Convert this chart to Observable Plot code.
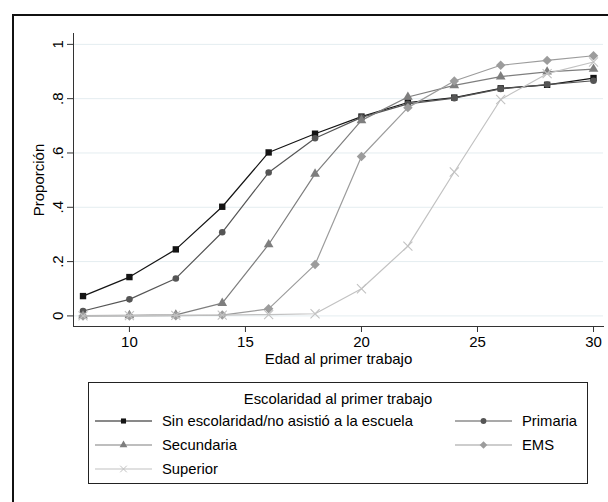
<!DOCTYPE html>
<html>
<head>
<meta charset="utf-8">
<script src="https://cdn.jsdelivr.net/npm/d3@7"></script>
<script src="https://cdn.jsdelivr.net/npm/@observablehq/plot@0.6"></script>
<style>
  html, body { margin: 0; padding: 0; background: #fff; width: 608px; height: 502px; overflow: hidden; position: relative; font-family: "Liberation Sans", Arial, sans-serif; }
  #frame { position: absolute; left: 12px; top: 14px; width: 700px; height: 600px; border-top: 2px solid #111; border-left: 2px solid #111; box-sizing: border-box; }
  #chart { position: absolute; left: 0; top: 0; }
  #legend { position: absolute; left: 88px; top: 382px; }
</style>
</head>
<body>
<div id="frame"></div>
<div id="chart"></div>
<div id="legend"></div>
<script>
const ages = [8, 10, 12, 14, 16, 18, 20, 22, 24, 26, 28, 30];
const sinEscolaridad = [0.073, 0.143, 0.245, 0.402, 0.602, 0.671, 0.734, 0.786, 0.804, 0.838, 0.851, 0.876];
const primaria      = [0.018, 0.061, 0.138, 0.308, 0.528, 0.654, 0.731, 0.781, 0.802, 0.836, 0.852, 0.866];
const secundaria    = [0.001, 0.002, 0.004, 0.047, 0.263, 0.523, 0.720, 0.806, 0.849, 0.881, 0.899, 0.909];
const ems           = [0.000, 0.000, 0.001, 0.003, 0.026, 0.189, 0.587, 0.767, 0.865, 0.923, 0.941, 0.958];
const superior      = [0.000, 0.001, 0.002, 0.003, 0.005, 0.008, 0.100, 0.257, 0.530, 0.797, 0.892, 0.935];

const seriesNames = ["Sin escolaridad/no asistió a la escuela", "Primaria", "Secundaria", "EMS", "Superior"];
const seriesValues = [sinEscolaridad, primaria, secundaria, ems, superior];
const seriesColors = ["#141414", "#555555", "#7e7e7e", "#9c9c9c", "#c2c2c2"];
const seriesSymbolNames = ["square", "circle", "triangle", "diamond", "times"];

const yTicks = [0, 0.2, 0.4, 0.6, 0.8, 1];
const yTickLabels = ["0", ".2", ".4", ".6", ".8", "1"];
const xTicks = [10, 15, 20, 25, 30];
const xTitle = "Edad al primer trabajo";
const yTitle = "Proporción";
const legendTitle = "Escolaridad al primer trabajo";

// square rotated 45° (Stata-style diamond)
const diamondSquare = {
  draw(context, size) {
    const h = Math.sqrt(size) / Math.SQRT2 * 1.05;
    context.moveTo(0, -h); context.lineTo(h, 0); context.lineTo(0, h); context.lineTo(-h, 0); context.closePath();
  }
};
const symMap = {square: d3.symbolSquare, circle: d3.symbolCircle, triangle: d3.symbolTriangle, diamond: diamondSquare, times: d3.symbolTimes};
const seriesSymbols = seriesSymbolNames.map(n => symMap[n]);

const data = seriesNames.flatMap((s, i) => ages.map((a, j) => ({serie: s, age: a, value: seriesValues[i][j]})));

const font = "'Liberation Sans', Arial, sans-serif";

const seriesMarks = seriesNames.flatMap((s, i) => {
  const d = data.filter(r => r.serie === s);
  const line = Plot.line(d, {x: "age", y: "value", stroke: "serie", strokeWidth: 1.2});
  const dot = seriesSymbolNames[i] === "times"
    ? Plot.dot(d, {x: "age", y: "value", symbol: "serie", stroke: "serie", r: 4.2, strokeWidth: 1.1})
    : Plot.dot(d, {x: "age", y: "value", symbol: "serie", fill: "serie", r: seriesSymbolNames[i] === "circle" ? 3.3 : 3.6});
  return [line, dot];
});

const chart = Plot.plot({
  width: 608,
  height: 375,
  marginLeft: 73,
  marginTop: 33,
  marginRight: 5,
  marginBottom: 49,
  style: {fontFamily: font, fontSize: "14px", color: "#000", background: "transparent"},
  x: {domain: [7.59, 30.43]},
  y: {domain: [-0.039, 1.04]},
  color: {domain: seriesNames, range: seriesColors},
  symbol: {domain: seriesNames, range: seriesSymbols},
  marks: [
    Plot.gridY(yTicks, {stroke: "#e4edf0", strokeOpacity: 1, strokeWidth: 1}),
    Plot.frame({anchor: "left", stroke: "#333"}),
    Plot.frame({anchor: "bottom", stroke: "#333"}),
    Plot.axisY(yTicks, {tickSize: 6, text: null, label: null, stroke: "#333"}),
    Plot.text(yTicks, {y: d => d, text: (d, i) => yTickLabels[i], frameAnchor: "left", textAnchor: "middle", dx: -15, rotate: -90, fontSize: 15}),
    Plot.axisX(xTicks, {tickSize: 6, tickPadding: 4, label: null, fontSize: 15, stroke: "#333"}),
    Plot.text([xTitle], {text: d => d, frameAnchor: "bottom", dy: 37, fontSize: 15}),
    Plot.text([yTitle], {text: d => d, frameAnchor: "left", textAnchor: "middle", dx: -34, rotate: -90, fontSize: 15}),
    ...seriesMarks
  ]
});
document.getElementById("chart").appendChild(chart);

// Legend
const LW = 499, LH = 101;
const svg = d3.select("#legend").append("svg").attr("width", LW + 1).attr("height", LH + 1)
  .style("font-family", font).style("font-size", "14.8px");
svg.append("rect").attr("x", 0.5).attr("y", 0.5).attr("width", LW).attr("height", LH)
  .attr("fill", "#fff").attr("stroke", "#222").attr("stroke-width", 1);
svg.append("text").attr("x", 250).attr("y", 17).attr("text-anchor", "middle").attr("dominant-baseline", "central").text(legendTitle);
const pos = [[7, 39], [367, 39], [7, 63], [367, 63], [7, 87]];
seriesNames.forEach((s, i) => {
  const [x0, y0] = pos[i];
  const g = svg.append("g").attr("transform", `translate(${x0},${y0})`);
  g.append("line").attr("x1", 0).attr("x2", 57).attr("y1", 0).attr("y2", 0).attr("stroke", seriesColors[i]).attr("stroke-width", 1.2);
  const sym = d3.symbol(seriesSymbols[i], seriesSymbolNames[i] === "times" ? 30 : 26)();
  const p = g.append("path").attr("d", sym).attr("transform", "translate(28.5,0)");
  if (seriesSymbolNames[i] === "times") p.attr("fill", "none").attr("stroke", seriesColors[i]).attr("stroke-width", 1);
  else p.attr("fill", seriesColors[i]);
  g.append("text").attr("x", 67).attr("y", 0).attr("dominant-baseline", "central").text(s);
});
</script>
</body>
</html>
